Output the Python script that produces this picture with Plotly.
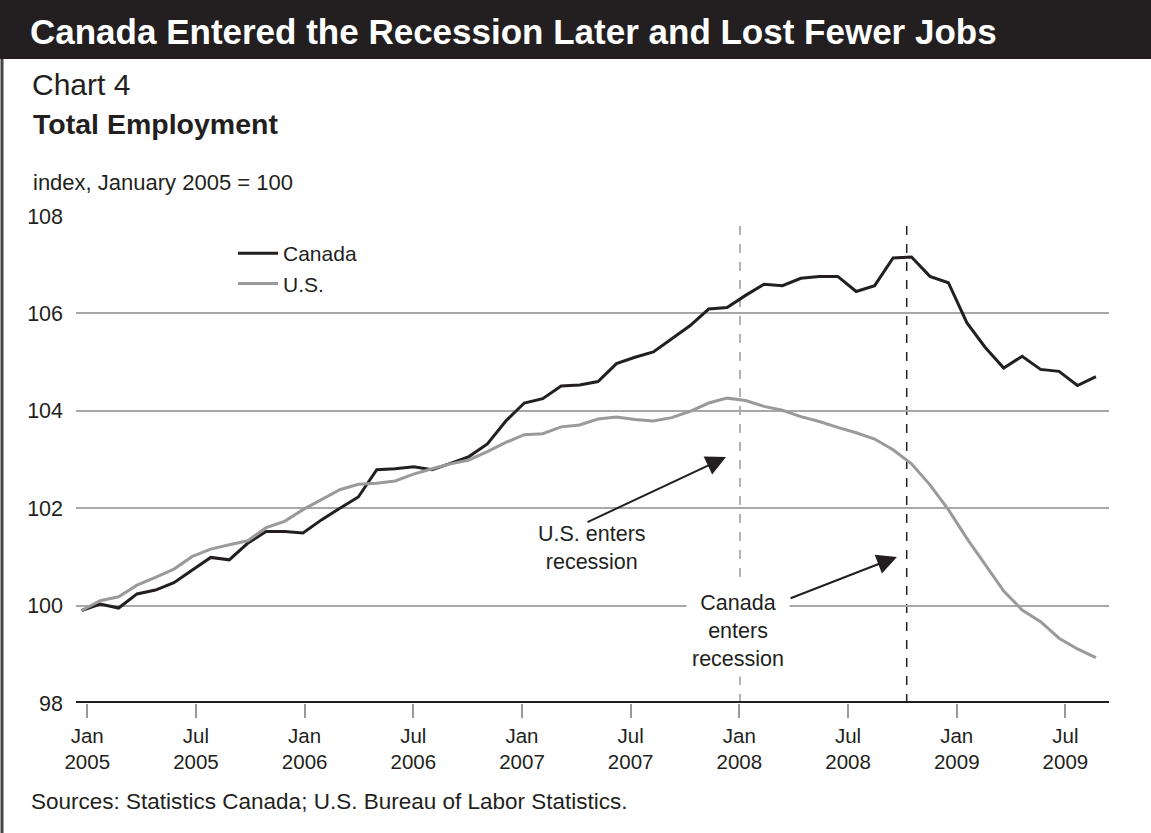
import plotly.graph_objects as go

# ---------------- data ----------------
months = [f"{y}-{m:02d}" for y in range(2005, 2010) for m in range(1, 13)][:56]

canada = [99.90, 100.03, 99.95, 100.24, 100.32, 100.47, 100.73, 100.99, 100.94, 101.28,
          101.52, 101.52, 101.49, 101.76, 102.00, 102.23, 102.79, 102.81, 102.85, 102.79,
          102.92, 103.06, 103.32, 103.79, 104.16, 104.25, 104.51, 104.53, 104.60, 104.97,
          105.10, 105.21, 105.48, 105.75, 106.09, 106.12, 106.37, 106.60, 106.57, 106.72,
          106.76, 106.76, 106.45, 106.57, 107.14, 107.16, 106.76, 106.63, 105.81, 105.30,
          104.88, 105.12, 104.85, 104.81, 104.52, 104.70]

us = [99.90, 100.10, 100.18, 100.42, 100.58, 100.75, 101.01, 101.16, 101.25, 101.33,
      101.60, 101.73, 101.97, 102.18, 102.38, 102.49, 102.51, 102.56, 102.70, 102.81,
      102.91, 102.99, 103.16, 103.35, 103.51, 103.53, 103.67, 103.71, 103.83, 103.87,
      103.82, 103.79, 103.86, 103.99, 104.16, 104.26, 104.21, 104.09, 104.01, 103.88,
      103.78, 103.66, 103.55, 103.42, 103.20, 102.91, 102.48, 101.97, 101.38, 100.84,
      100.30, 99.91, 99.67, 99.33, 99.11, 98.93]

tick_labels = ["Jan<br>2005", "Jul<br>2005", "Jan<br>2006", "Jul<br>2006", "Jan<br>2007",
               "Jul<br>2007", "Jan<br>2008", "Jul<br>2008", "Jan<br>2009", "Jul<br>2009"]
y_ticks = [98, 100, 102, 104, 106, 108]

# ---------------- layout geometry ----------------
W, H = 1151, 833
L, R, T, B = 76, 1109, 216, 703


def px_x(p):
    return (p - L) / (R - L)


def px_y(p):
    return (B - p) / (B - T)


FONT = "Liberation Sans, Arial, Helvetica, sans-serif"
INK = "#231f20"
GREY = "#9a9a9a"

x_idx = list(range(len(months)))
tick_pos = [0.30 + 5.894 * k for k in range(len(tick_labels))]

fig = go.Figure()
fig.add_trace(go.Scatter(x=x_idx, y=canada, mode="lines", name="Canada",
                         text=months, line=dict(color=INK, width=3)))
fig.add_trace(go.Scatter(x=x_idx, y=us, mode="lines", name="U.S.",
                         text=months, line=dict(color=GREY, width=3)))

shapes = [
    # title bar
    dict(type="rect", xref="paper", yref="paper", x0=px_x(0), x1=px_x(W),
         y0=px_y(59), y1=px_y(0), fillcolor=INK, line=dict(width=0), layer="above"),
    # left frame line
    dict(type="line", xref="paper", yref="paper", x0=px_x(2), x1=px_x(2),
         y0=px_y(59), y1=px_y(H), line=dict(color="#444444", width=3)),
    # recession markers
    dict(type="line", xref="x", yref="paper", x0=35.70, x1=35.70, y0=0, y1=0.995,
         line=dict(color=GREY, width=1.5, dash="dash"), layer="below"),
    dict(type="line", xref="x", yref="paper", x0=44.74, x1=44.74, y0=0, y1=0.995,
         line=dict(color=INK, width=1.5, dash="dash"), layer="below"),
    # baseline
    dict(type="line", xref="paper", yref="y", x0=0, x1=1, y0=98, y1=98,
         line=dict(color=INK, width=4)),
]

annotations = [
    dict(text="<b>Canada Entered the Recession Later and Lost Fewer Jobs</b>",
         xref="paper", yref="paper", x=px_x(28), y=px_y(31), xanchor="left", yanchor="middle",
         showarrow=False, font=dict(family=FONT, size=35, color="white")),
    dict(text="Chart 4", xref="paper", yref="paper", x=px_x(30), y=px_y(85),
         xanchor="left", yanchor="middle", showarrow=False,
         font=dict(family=FONT, size=30, color=INK)),
    dict(text="<b>Total Employment</b>", xref="paper", yref="paper", x=px_x(31), y=px_y(124),
         xanchor="left", yanchor="middle", showarrow=False,
         font=dict(family=FONT, size=28.5, color=INK)),
    dict(text="index, January 2005 = 100", xref="paper", yref="paper", x=px_x(31), y=px_y(182),
         xanchor="left", yanchor="middle", showarrow=False,
         font=dict(family=FONT, size=22, color=INK)),
    dict(text="Sources: Statistics Canada; U.S. Bureau of Labor Statistics.",
         xref="paper", yref="paper", x=px_x(29), y=px_y(801),
         xanchor="left", yanchor="middle", showarrow=False,
         font=dict(family=FONT, size=22.5, color=INK)),
    # callouts
    dict(text="U.S. enters<br>recession", xref="x", yref="y", x=27.67, y=101.18,
         showarrow=False, font=dict(family=FONT, size=21.5, color=INK)),
    dict(text="Canada<br>enters<br>recession", xref="x", yref="y", x=35.59, y=99.48,
         showarrow=False, bgcolor="white", borderpad=5,
         font=dict(family=FONT, size=21.5, color=INK)),
    dict(text="", xref="x", yref="y", x=34.94, y=103.05, axref="x", ayref="y",
         ax=27.35, ay=101.70, showarrow=True, arrowhead=2, arrowsize=2.0,
         arrowwidth=2, arrowcolor=INK, standoff=0, startstandoff=0),
    dict(text="", xref="x", yref="y", x=44.21, y=101.00, axref="x", ayref="y",
         ax=38.36, ay=100.14, showarrow=True, arrowhead=2, arrowsize=2.0,
         arrowwidth=2, arrowcolor=INK, standoff=0, startstandoff=0),
]

fig.update_layout(
    width=W, height=H,
    margin=dict(l=L, r=W - R, t=T, b=H - B, pad=0),
    paper_bgcolor="white", plot_bgcolor="white",
    font=dict(family=FONT, size=21, color=INK),
    showlegend=True,
    legend=dict(x=px_x(233), y=px_y(233), xanchor="left", yanchor="top",
                bgcolor="rgba(0,0,0,0)", font=dict(family=FONT, size=21, color=INK),
                itemwidth=40, tracegroupgap=0),
    hovermode=False,
    shapes=shapes,
    annotations=annotations,
    xaxis=dict(range=[-0.31, 55.71], tickmode="array", tickvals=tick_pos,
               ticktext=tick_labels, ticks="outside", ticklen=14, tickwidth=1.5,
               tickcolor=GREY, showgrid=False, zeroline=False, showline=False,
               tickfont=dict(family=FONT, size=20.5, color=INK)),
    yaxis=dict(range=[98, 108], tickmode="array", tickvals=y_ticks,
               ticktext=[str(v) for v in y_ticks], ticks="", showgrid=True,
               gridcolor="#a8a8a8", gridwidth=1.5, zeroline=False, showline=False,
               ticklabelstandoff=12, tickfont=dict(family=FONT, size=21.5, color=INK)),
)

fig.write_html("out.html", config={"displayModeBar": False},
               post_script="document.body.style.margin='0';document.body.style.padding='0';")
